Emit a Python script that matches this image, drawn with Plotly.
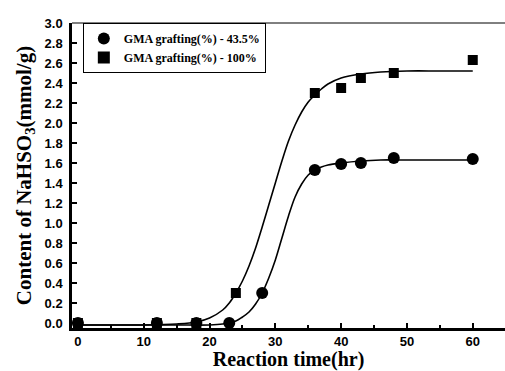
import plotly.graph_objects as go

# measured data
t_435 = [0, 12, 18, 23, 28, 36, 40, 43, 48, 60]
c_435 = [0.0, 0.0, 0.0, 0.0, 0.30, 1.53, 1.59, 1.60, 1.65, 1.64]
t_100 = [0, 12, 18, 24, 36, 40, 43, 48, 60]
c_100 = [0.0, 0.0, 0.0, 0.30, 2.30, 2.35, 2.45, 2.50, 2.63]

# fitted curves
fit_t_435 = [0, 5, 10, 15, 20, 22, 24, 25, 26, 27, 28, 29, 30, 31, 32, 33, 34, 35, 36, 37, 38, 40, 43, 46, 50, 55, 60]
fit_c_435 = [-0.02, -0.02, -0.02, -0.02, -0.02, -0.01, 0.02, 0.06, 0.11, 0.19, 0.30, 0.45, 0.63, 0.85, 1.07, 1.26, 1.39, 1.48, 1.53, 1.56, 1.58, 1.60, 1.62, 1.63, 1.63, 1.63, 1.63]
fit_t_100 = [0, 5, 10, 15, 18, 20, 22, 23, 24, 25, 26, 27, 28, 29, 30, 31, 32, 33, 34, 35, 36, 37, 38, 40, 43, 46, 50, 55, 60]
fit_c_100 = [-0.02, -0.02, -0.02, -0.01, 0.01, 0.05, 0.13, 0.20, 0.30, 0.42, 0.57, 0.75, 0.96, 1.18, 1.40, 1.62, 1.82, 1.98, 2.11, 2.21, 2.28, 2.34, 2.39, 2.45, 2.49, 2.51, 2.52, 2.52, 2.52]

x_ticks = [0, 10, 20, 30, 40, 50, 60]
y_ticks = [round(0.2 * i, 1) for i in range(16)]
y_tick_labels = [f"{v:.1f}" for v in y_ticks]

serif = "Liberation Serif, Times New Roman, serif"
sans = "Liberation Sans, Arial, sans-serif"

fig = go.Figure()
fig.add_trace(go.Scatter(x=fit_t_100, y=fit_c_100, mode="lines", line=dict(color="black", width=1.6, shape="spline"),
                         showlegend=False, hoverinfo="skip"))
fig.add_trace(go.Scatter(x=fit_t_435, y=fit_c_435, mode="lines", line=dict(color="black", width=1.6, shape="spline"),
                         showlegend=False, hoverinfo="skip"))
fig.add_trace(go.Scatter(x=t_100, y=c_100, mode="markers", name="GMA grafting(%) - 100%",
                         marker=dict(symbol="square", size=10, color="black")))
fig.add_trace(go.Scatter(x=t_435, y=c_435, mode="markers", name="GMA grafting(%) - 43.5%",
                         marker=dict(symbol="circle", size=12, color="black")))

fig.update_layout(
    width=505, height=371,
    margin=dict(l=72, r=0, t=23, b=43),
    paper_bgcolor="white", plot_bgcolor="white",
    showlegend=True,
    legend=dict(x=0.025, y=1.0, xanchor="left", yanchor="top", traceorder="reversed",
                bordercolor="black", borderwidth=1, bgcolor="white",
                font=dict(family=serif, size=12, color="black", weight="bold"),
                tracegroupgap=0, itemsizing="constant"),
    xaxis=dict(range=[-0.9, 64.9], tickvals=x_ticks, ticks="inside", ticklen=5, tickwidth=1.5,
               tickcolor="black", showline=True, linecolor="black", linewidth=2.5,
               showgrid=False, zeroline=False,
               minor=dict(dtick=5, ticks="inside", ticklen=3, tickcolor="black", showgrid=False),
               tickfont=dict(family=sans, size=13, color="black", weight="bold"),
               title=dict(text="Reaction time(hr)", standoff=8,
                          font=dict(family=serif, size=20, color="black", weight="bold"))),
    yaxis=dict(range=[-0.05, 3.0], tickvals=y_ticks, ticktext=y_tick_labels, ticks="inside", ticklen=5,
               tickwidth=1.5, tickcolor="black", showline=True, linecolor="black", linewidth=2.5,
               showgrid=False, zeroline=False, ticklabelstandoff=4,
               tickfont=dict(family=sans, size=13, color="black", weight="bold"),
               title=dict(text="Content of NaHSO<sub>3</sub>(mmol/g)", standoff=8,
                          font=dict(family=serif, size=21, color="black", weight="bold"))),
)
fig.add_shape(type="line", xref="paper", yref="paper", x0=0, x1=1, y0=1, y1=1,
              line=dict(color="black", width=1))

fig.write_html("out.html")
